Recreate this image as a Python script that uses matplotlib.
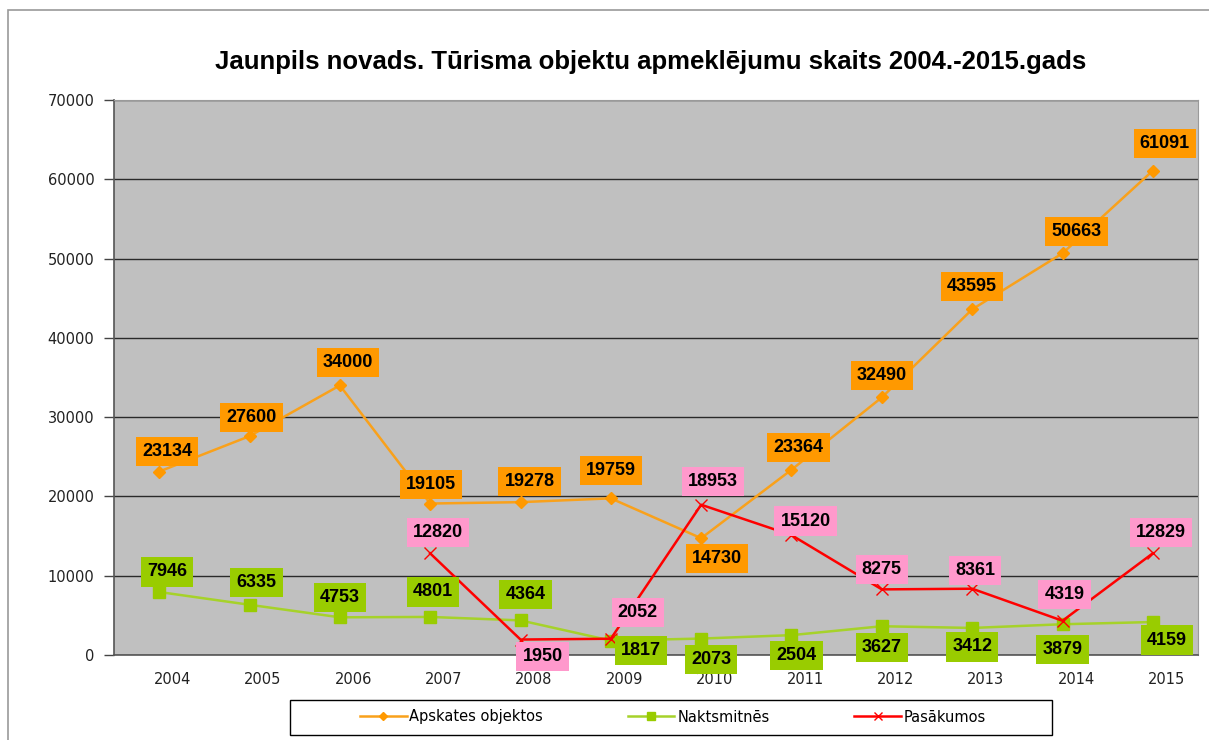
"""Jaunpils novads tourism visits 2004-2015, line chart with boxed labels."""

import matplotlib

matplotlib.use("Agg")

import matplotlib.pyplot as plt
from matplotlib.patches import Rectangle

years = ["2004", "2005", "2006", "2007", "2008", "2009",
         "2010", "2011", "2012", "2013", "2014", "2015"]
apskates = [23134, 27600, 34000, 19105, 19278, 19759,
            14730, 23364, 32490, 43595, 50663, 61091]
naktsmitnes = [7946, 6335, 4753, 4801, 4364, 1817,
               2073, 2504, 3627, 3412, 3879, 4159]
pasakumi_years = ["2007", "2008", "2009", "2010", "2011",
                  "2012", "2013", "2014", "2015"]
pasakumi = [12820, 1950, 2052, 18953, 15120, 8275, 8361, 4319, 12829]

# label offsets in pixels (dx, dy), positive dy = up
apskates_off = [(8, 20), (2, 19), (8, 23), (1, 19), (9, 21), (0, 28),
                (16, -20), (7, 22), (0, 22), (0, 23), (14, 22), (12, 27)]
naktsmitnes_off = [(8, 20), (7, 22), (0, 20), (3, 25), (5, 26), (30, -10),
                   (10, -21), (5, -20), (0, -21), (0, -19), (0, -25), (14, -18)]
pasakumi_off = [(8, 21), (22, -17), (27, 26), (12, 23), (14, 14),
                (0, 20), (3, 18), (2, 26), (8, 21)]

ORANGE = "#FF9900"
GREEN = "#99CC00"
RED = "#FF0000"
PINK = "#FF99CC"
TICK_FONT = "DejaVu Sans"

fig = plt.figure(figsize=(12.09, 7.40), dpi=100)
fig.patches.append(Rectangle((8 / 1209, -0.01), 1.0, 1 - 10 / 740 + 0.01,
                             transform=fig.transFigure, fill=False,
                             edgecolor="#9a9a9a", linewidth=1.2))

ax = fig.add_axes([114 / 1209, 1 - 655 / 740, (1198 - 114) / 1209, (655 - 100) / 740])
ax.set_facecolor("#C0C0C0")

x_all = list(range(len(years)))
x_pas = [years.index(y) for y in pasakumi_years]

ax.plot(x_all, apskates, color="#F9A11B", linewidth=1.8, marker="D",
        markersize=6.5, markerfacecolor=ORANGE, markeredgecolor=ORANGE,
        label="Apskates objektos", zorder=4)
ax.plot(x_all, naktsmitnes, color="#A6D22A", linewidth=1.8, marker="s",
        markersize=8, markerfacecolor=GREEN, markeredgecolor=GREEN,
        label="Naktsmitnēs", zorder=4)
ax.plot(x_pas, pasakumi, color=RED, linewidth=1.8, marker="x",
        markersize=9, markeredgewidth=1.0, label="Pasākumos", zorder=4)


def _labels(xs, values, offsets, face):
    for xv, val, (dx, dy) in zip(xs, values, offsets):
        ax.annotate(str(val), (xv, val), xytext=(dx, dy),
                    textcoords="offset pixels", ha="center", va="center",
                    fontsize=13, fontweight="bold", color="black",
                    family="Liberation Sans", zorder=6,
                    bbox=dict(boxstyle="square,pad=0.34", facecolor=face,
                              edgecolor="none"))


_labels(x_all, apskates, apskates_off, ORANGE)
_labels(x_all, naktsmitnes, naktsmitnes_off, GREEN)
_labels(x_pas, pasakumi, pasakumi_off, PINK)

ax.set_xlim(-0.5, len(years) - 0.5)
ax.set_ylim(0, 70000)
ax.set_yticks(range(0, 70001, 10000))
ax.yaxis.grid(True, color="#2a2a2a", linewidth=1.0)
ax.set_axisbelow(True)
# Excel draws the category labels slightly right of the points
ax.set_xticks([x + 0.15 for x in x_all])
ax.set_xticklabels(years)
ax.tick_params(axis="x", length=0, pad=12, labelsize=10.5, labelcolor="#222222")
ax.tick_params(axis="y", length=7, width=1, color="#444444", pad=7,
               labelsize=10.5, labelcolor="#222222")
for lbl in ax.get_xticklabels() + ax.get_yticklabels():
    lbl.set_family(TICK_FONT)
for side in ("top", "right"):
    ax.spines[side].set_color("#9a9a9a")
for side in ("left", "bottom"):
    ax.spines[side].set_color("#555555")
    ax.spines[side].set_linewidth(1.2)

fig.text(651 / 1209, 1 - 62 / 740,
         "Jaunpils novads. Tūrisma objektu apmeklējumu skaits 2004.-2015.gads",
         ha="center", va="center", fontsize=18.5, fontweight="bold",
         family="Liberation Sans")

fig.patches.append(Rectangle((290 / 1209, 1 - 735 / 740), 762 / 1209, 35 / 740,
                             transform=fig.transFigure, fill=False,
                             edgecolor="black", linewidth=1.0))
fig.legend(loc="center", bbox_to_anchor=(673 / 1209, 1 - 717 / 740),
           ncol=3, frameon=False, markerscale=0.7,
           prop={"family": TICK_FONT, "size": 10.5},
           columnspacing=5.8, handlelength=3.2, handletextpad=0.2)

fig.savefig("out.png", dpi=100)
